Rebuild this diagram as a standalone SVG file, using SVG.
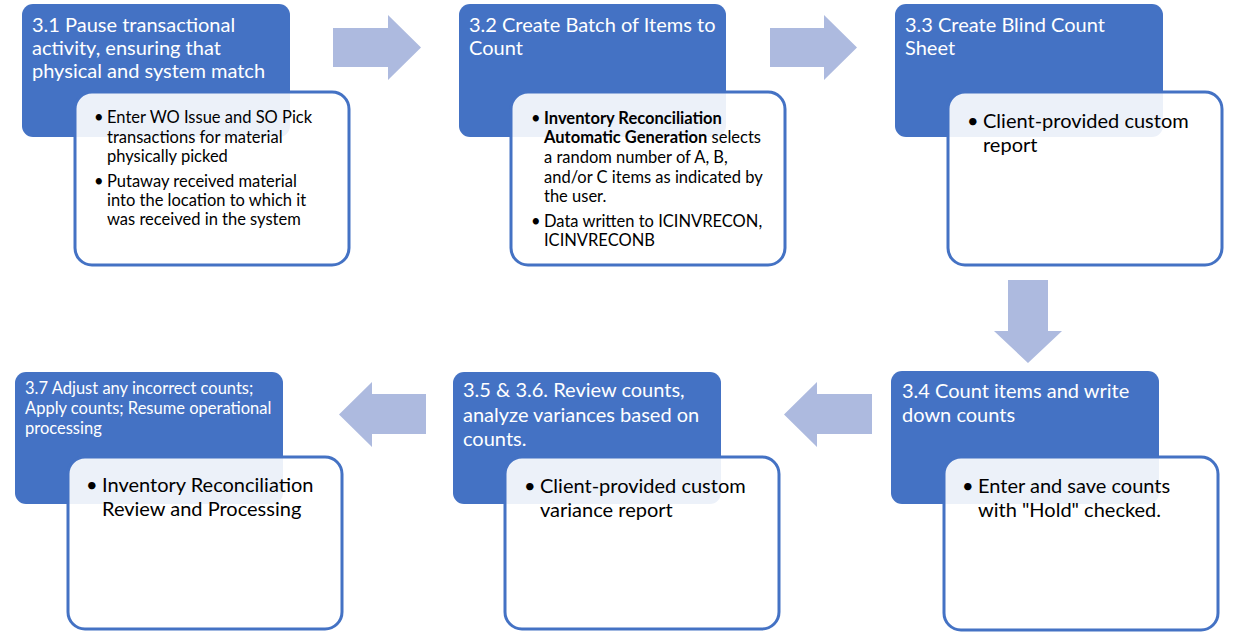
<svg xmlns="http://www.w3.org/2000/svg" width="1240" height="640" viewBox="0 0 1240 640">
<style>
.hd{fill:#4472C4}
.bx{fill:#FFFFFF;fill-opacity:0.9;stroke:#4472C4;stroke-width:3}
.ar{fill:#ADBADF}
.t{font-family:Lato,"Liberation Sans",sans-serif;fill:#FFFFFF;font-size:20px}
.ts{font-family:Lato,"Liberation Sans",sans-serif;fill:#FFFFFF;font-size:16.5px}
.b{font-family:Lato,"Liberation Sans",sans-serif;fill:#000000;font-size:16.5px}
.bl{font-family:Lato,"Liberation Sans",sans-serif;fill:#000000;font-size:20px}
.bold{font-weight:bold}
</style>
<rect width="1240" height="640" fill="#FFFFFF"/>
<g id="connectors">
<polygon class="ar" points="333,28 388,28 388,15 421,47.5 388,80 388,67 333,67"/>
<polygon class="ar" points="770,28 824,28 824,15 857,47.5 824,80 824,67 770,67"/>
<polygon class="ar" points="1008,280 1048,280 1048,331 1062,331 1028,363 994,331 1008,331"/>
<polygon class="ar" points="872,394 817,394 817,382 784,414.5 817,447 817,434 872,434"/>
<polygon class="ar" points="426,394 372,394 372,382 339,414.5 372,447 372,434 426,434"/>
</g>
<g id="n31">
<rect class="hd" x="22" y="4" width="268" height="133" rx="11"/>
<text class="t" x="32" y="32">3.1 Pause transactional</text>
<text class="t" x="32" y="55">activity, ensuring that</text>
<text class="t" x="32" y="78">physical and system match</text>
<rect class="bx" x="75" y="92" width="274" height="173" rx="17"/>
<text class="b"><tspan x="94" y="123">•</tspan><tspan x="107" y="123">Enter WO Issue and SO Pick</tspan><tspan x="107" y="143">transactions for material</tspan><tspan x="107" y="162">physically picked</tspan><tspan x="94" y="187">•</tspan><tspan x="107" y="187">Putaway received material</tspan><tspan x="107" y="206">into the location to which it</tspan><tspan x="107" y="225">was received in the system</tspan></text>
</g>
<g id="n32">
<rect class="hd" x="459" y="4" width="267" height="133" rx="11"/>
<text class="t" x="469" y="32">3.2 Create Batch of Items to</text>
<text class="t" x="469" y="55">Count</text>
<rect class="bx" x="511" y="92" width="274" height="173" rx="17"/>
<text class="b"><tspan x="531" y="124">•</tspan><tspan x="544" y="124" class="bold">Inventory Reconciliation</tspan><tspan x="544" y="143" class="bold">Automatic Generation</tspan><tspan> selects</tspan><tspan x="544" y="163">a random number of A, B,</tspan><tspan x="544" y="183">and/or C items as indicated by</tspan><tspan x="544" y="202">the user.</tspan><tspan x="531" y="227">•</tspan><tspan x="544" y="227">Data written to ICINVRECON,</tspan><tspan x="544" y="246">ICINVRECONB</tspan></text>
</g>
<g id="n33">
<rect class="hd" x="895" y="4" width="268" height="133" rx="11"/>
<text class="t" x="905" y="32">3.3 Create Blind Count</text>
<text class="t" x="905" y="55">Sheet</text>
<rect class="bx" x="948" y="92" width="274" height="173" rx="17"/>
<text class="bl"><tspan x="967" y="128">•</tspan><tspan x="983" y="128">Client-provided custom</tspan><tspan x="983" y="152">report</tspan></text>
</g>
<g id="n34">
<rect class="hd" x="891" y="371" width="268" height="133" rx="11"/>
<text class="t" x="902" y="398">3.4 Count items and write</text>
<text class="t" x="902" y="422">down counts</text>
<rect class="bx" x="944" y="457" width="274" height="173" rx="17"/>
<text class="bl"><tspan x="962" y="493">•</tspan><tspan x="978" y="493">Enter and save counts</tspan><tspan x="978" y="517">with "Hold" checked.</tspan></text>
</g>
<g id="n356">
<rect class="hd" x="453" y="372" width="268" height="132" rx="11"/>
<text class="t" x="463" y="397">3.5 &amp; 3.6. Review counts,</text>
<text class="t" x="463" y="422">analyze  variances based on</text>
<text class="t" x="463" y="446">counts.</text>
<rect class="bx" x="505" y="457" width="274" height="172" rx="17"/>
<text class="bl"><tspan x="524" y="493">•</tspan><tspan x="540" y="493">Client-provided custom</tspan><tspan x="540" y="517">variance report</tspan></text>
</g>
<g id="n37">
<rect class="hd" x="15" y="372" width="268" height="132" rx="11"/>
<text class="ts" x="25" y="394">3.7 Adjust  any incorrect counts;</text>
<text class="ts" x="25" y="414">Apply  counts; Resume operational</text>
<text class="ts" x="25" y="434">processing</text>
<rect class="bx" x="68" y="457" width="274" height="172" rx="17"/>
<text class="bl"><tspan x="86" y="492">•</tspan><tspan x="102" y="492">Inventory Reconciliation</tspan><tspan x="102" y="516">Review and Processing</tspan></text>
</g>
</svg>
